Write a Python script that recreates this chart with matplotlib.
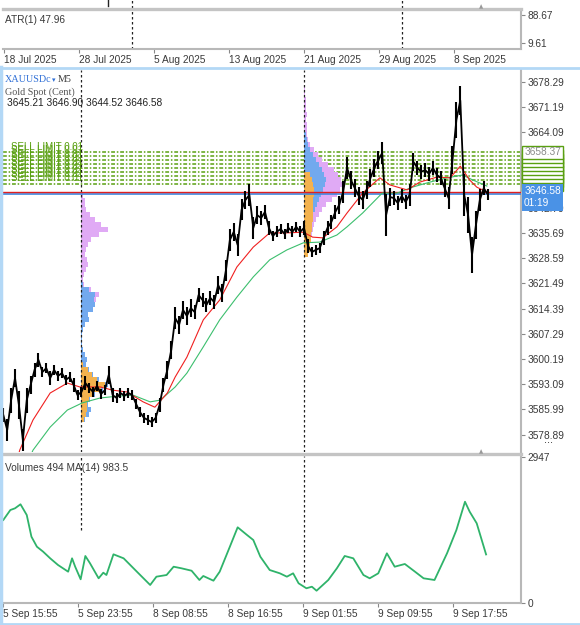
import matplotlib.pyplot as plt
import numpy as np
from matplotlib.lines import Line2D
from matplotlib.transforms import blended_transform_factory

plt.rcParams["font.family"] = ["Liberation Sans", "DejaVu Sans"]

W, H = 580, 625

# ---------------- data ----------------
day_ticks = ["18 Jul 2025", "28 Jul 2025", "5 Aug 2025", "13 Aug 2025",
             "21 Aug 2025", "29 Aug 2025", "8 Sep 2025"]
day_tick_pos = [0, 6, 12, 18, 24, 30, 36]
day_separators = [10.3, 31.9]
atr_ticks = [88.67, 9.61]

bar_ticks = ["5 Sep 15:55", "5 Sep 23:55", "8 Sep 08:55", "8 Sep 16:55",
             "9 Sep 01:55", "9 Sep 09:55", "9 Sep 17:55"]
bar_tick_pos = [0, 96, 192, 288, 384, 480, 576]
session_separators = [100, 385]

price_ticks = [3678.29, 3671.19, 3664.09, 3656.99, 3649.89, 3642.79, 3635.69,
               3628.59, 3621.49, 3614.39, 3607.29, 3600.19, 3593.09, 3585.99,
               3578.89]

# M5 close, one value every 5 bars, and the high-low span of those bars
sample_step = 5
close = [
    3584.4, 3580.2, 3588.6, 3594.8, 3587.2, 3577.4, 3588.6, 3592.9, 3597.1, 3599.9,
    3596.5, 3597.6, 3594.8, 3597.1, 3595.4, 3596.2, 3594.3, 3595.1, 3592.9, 3590.0,
    3590.9, 3593.4, 3592.0, 3590.9, 3592.6, 3590.3, 3591.4, 3595.7, 3590.0, 3589.2,
    3590.6, 3589.8, 3590.6, 3590.0, 3587.5, 3585.2, 3583.6, 3583.0, 3582.4, 3583.6,
    3587.2, 3592.9, 3597.1, 3602.7, 3611.7, 3609.8, 3614.0, 3612.3, 3614.5, 3613.4,
    3618.2, 3616.8, 3615.4, 3617.4, 3616.2, 3621.0, 3618.8, 3625.2, 3633.7, 3636.0,
    3632.3, 3642.2, 3645.0, 3646.4, 3637.1, 3640.7, 3639.9, 3641.6, 3637.1, 3634.8,
    3636.0, 3636.8, 3635.4, 3637.1, 3636.0, 3637.4, 3636.0, 3637.1, 3632.0, 3630.3,
    3630.9, 3631.4, 3634.3, 3637.1, 3638.8, 3641.6, 3643.6, 3647.2, 3654.0, 3650.6,
    3648.3, 3646.1, 3645.0, 3647.8, 3651.2, 3654.0, 3656.2, 3658.2, 3640.7, 3645.8,
    3645.5, 3644.1, 3646.1, 3644.4, 3646.4, 3655.7, 3654.0, 3652.9, 3653.4, 3652.3,
    3654.0, 3652.0, 3651.2, 3648.3, 3645.5, 3656.2, 3667.5, 3673.0, 3646.4, 3640.7,
    3629.5, 3637.9, 3645.0, 3648.3, 3646.6,
]
bar_span = [
    4, 6, 7, 5, 8, 6, 7, 5, 4, 4,
    3, 3, 4, 3, 3, 3, 3, 3, 4, 3,
    3, 4, 3, 3, 3, 3, 3, 5, 4, 3,
    3, 3, 3, 3, 3, 3, 3, 3, 3, 3,
    4, 4, 5, 5, 6, 5, 5, 5, 5, 4,
    4, 4, 4, 4, 4, 5, 5, 6, 6, 5,
    6, 6, 5, 6, 6, 5, 4, 4, 4, 3,
    3, 3, 3, 3, 3, 3, 3, 4, 4, 3,
    3, 3, 4, 4, 4, 4, 5, 6, 6, 5,
    5, 5, 5, 5, 5, 5, 5, 6, 12, 5,
    4, 4, 4, 4, 6, 5, 4, 4, 4, 4,
    4, 4, 4, 5, 6, 8, 10, 8, 12, 10,
    10, 8, 6, 4, 3,
]

red_ma_x = [10, 21, 38, 60, 82, 98, 124, 140, 158, 179, 194, 210, 220, 235, 256,
            277, 299, 320, 341, 363, 384, 396, 409, 427, 440, 460, 482, 495, 517,
            533, 555, 572, 585, 597, 606, 619]
red_ma = [3565.0, 3574.5, 3583.0, 3590.6, 3593.4, 3592.3, 3592.3, 3591.4, 3590.9,
          3588.1, 3586.6, 3590.6, 3595.1, 3600.7, 3611.2, 3616.8, 3626.1, 3631.7,
          3635.7, 3635.7, 3635.9, 3634.5, 3634.3, 3637.4, 3641.3, 3646.9, 3651.2,
          3649.2, 3647.8, 3650.0, 3651.4, 3651.2, 3654.5, 3650.6, 3648.6, 3647.2]

green_ma_x = [25, 38, 60, 82, 101, 124, 146, 166, 188, 201, 220, 235, 256, 277,
              299, 320, 341, 363, 384, 405, 427, 440, 460, 485, 504, 524, 546,
              568, 588, 601, 619]
green_ma = [3568.0, 3574.5, 3581.0, 3585.8, 3587.8, 3589.2, 3589.7, 3590.0, 3588.1,
            3588.6, 3592.3, 3596.2, 3603.6, 3611.2, 3617.6, 3623.3, 3628.1, 3630.9,
            3632.9, 3633.1, 3635.1, 3637.4, 3641.3, 3646.9, 3646.9, 3648.6, 3650.0,
            3651.2, 3652.0, 3650.6, 3648.9]

sell_limits = [3658.37, 3657.25, 3656.12, 3655.00, 3653.87, 3652.75, 3651.62,
               3650.50, 3649.37]
bid, ask = 3646.58, 3647.10

# volume profiles (width units per price bin)
prof_bin = 1.408
p1_top = 3646.37
p1_violet = [2, 4, 4, 5, 9, 14, 20, 27, 18, 10, 7, 5, 4, 6, 7, 5, 3, 2, 3, 10, 18, 15,
             0, 0, 0, 0, 0, 0, 0, 0, 0, 0, 0, 0, 0, 0, 0, 0, 0, 0, 0, 0, 0, 0, 0, 0]
p1_blue = [0, 0, 0, 0, 0, 0, 0, 0, 0, 0, 0, 0, 0, 0, 0, 0, 0, 0, 2, 8, 14, 13, 14, 12,
           7, 8, 4, 2, 1, 1, 1, 2, 4, 6, 5, 8, 12, 18, 27, 22, 14, 9, 7, 10, 8, 4]
p1_orange = [0] * 34 + [2, 7, 11, 16, 24, 20, 13, 8, 6, 6, 5, 3]

p2_top = 3675.95
p2_violet = [1, 1, 2, 2, 2, 3, 2, 3, 3, 3, 4, 6, 10, 14, 18, 24, 30, 34, 37, 38, 36,
             33, 28, 22, 18, 15, 12, 10, 9, 8, 7, 6, 5, 3]
p2_blue = [0] * 9 + [2, 3, 4, 6, 9, 12, 15, 18, 20, 22, 21, 19, 17, 15, 13, 11, 9,
                     7, 5] + [0] * 6
p2_orange = [0] * 17 + [6, 8, 9, 10, 10, 9, 9, 9, 9, 9, 8, 8, 7, 7, 6, 6, 4]

vol_ma_x = [0, 9, 15, 22, 30, 36, 43, 51, 60, 70, 83, 88, 92, 99, 105, 111, 122,
            128, 132, 141, 154, 171, 188, 196, 209, 218, 228, 241, 251, 256, 269,
            277, 290, 300, 312, 320, 329, 341, 354, 363, 371, 378, 388, 395, 401,
            416, 427, 437, 448, 461, 469, 480, 491, 501, 514, 527, 538, 552, 568,
            580, 591, 597, 606, 618]
vol_ma = [1681, 1883, 1918, 1999, 1782, 1343, 1140, 1039, 905, 770, 634, 905, 735,
          480, 952, 804, 500, 614, 567, 986, 905, 634, 365, 533, 567, 735, 703, 654,
          466, 547, 452, 634, 1140, 1533, 1377, 1276, 938, 668, 601, 533, 601, 399,
          298, 330, 249, 466, 703, 952, 905, 567, 500, 601, 1006, 735, 790, 634, 500,
          466, 1006, 1478, 2051, 1849, 1614, 983.5]
vol_ticks = [2947, 0]

# ---------------- figure ----------------
fig = plt.figure(figsize=(W / 100, H / 100), dpi=100)
TXT = "#3a3a3a"
GRID = "#b8b8b8"
SEP = dict(color="#222", lw=0.9, ls=(0, (2, 2)))


def px_axes(x0, y0, x1, y1):
    return fig.add_axes([x0 / W, 1 - y1 / H, (x1 - x0) / W, (y1 - y0) / H])


def ftext(x, y, s, **kw):
    kw.setdefault("va", "center")
    kw.setdefault("fontsize", 7.3)
    kw.setdefault("color", TXT)
    return fig.text(x / W, 1 - y / H, s, **kw)


def fline(xs, ys, **kw):
    fig.add_artist(Line2D([x / W for x in xs], [1 - y / H for y in ys], **kw))


def plain(ax):
    for s in ax.spines.values():
        s.set_visible(False)
    ax.set_xticks([])
    ax.set_yticks([])


def right_axis(ax, sides=("right",)):
    for side in sides:
        ax.spines[side].set_visible(True)
        ax.spines[side].set_color(GRID)
        ax.spines[side].set_linewidth(1.5)
    ax.yaxis.tick_right()


# top strip of the daily window
ax_top = px_axes(3, 0, 521, 8)
plain(ax_top)
ax_top.set_xlim(-0.06, 41.4)
for d in day_separators:
    ax_top.axvline(d, **SEP)
ax_top.axvline(8.35, ymin=0.2, color="#222", lw=1)

# ATR panel
ax_atr = px_axes(3, 10, 521, 49)
plain(ax_atr)
ax_atr.set_xlim(-0.06, 41.4)
ax_atr.set_ylim(-7.3, 102.8)
right_axis(ax_atr, ("right", "bottom"))
ax_atr.set_yticks(atr_ticks, [f"{v:.2f}" for v in atr_ticks])
ax_atr.set_xticks(day_tick_pos, day_ticks)
ax_atr.tick_params(axis="both", length=3, color="#888", labelsize=7.3,
                   labelcolor=TXT, pad=1.5)
for lab in ax_atr.get_xticklabels():
    lab.set_ha("left")
for d in day_separators:
    ax_atr.axvline(d, **SEP)
ax_atr.text(0.004, 0.75, "ATR(1) 47.96", transform=ax_atr.transAxes,
            fontsize=7.3, color=TXT, va="center")

# main price panel
ax = px_axes(3, 70, 521, 452)
plain(ax)
ax.set_xlim(-0.4, 662.7)
ax.set_ylim(3573.98, 3681.58)
right_axis(ax)
ax.set_yticks(price_ticks, [f"{v:.2f}" for v in price_ticks])
ax.tick_params(axis="y", length=3, color="#888", labelsize=7.3,
               labelcolor=TXT, pad=1.5)

px_to_bar = 1.28


def profile(base, top, violet, blue, orange):
    levels = top - prof_bin * np.arange(len(violet))
    for widths, col in ((violet, "#e0aaf5"), (blue, "#72a9ee"), (orange, "#f3b24e")):
        w = np.array(widths) * px_to_bar
        ax.barh(levels, w, left=base, height=prof_bin, color=col, lw=0, zorder=2)


profile(session_separators[0], p1_top, p1_violet, p1_blue, p1_orange)
profile(session_separators[1], p2_top, p2_violet, p2_blue, p2_orange)

for s in session_separators:
    ax.axvline(s, zorder=3, **SEP)

for p in sell_limits:
    ax.axhline(p, color="#5aa012", lw=1.1, ls=(0, (2.5, 1.2, 1, 1.2)), zorder=1)
    ax.text(10, p + 0.25, "SELL LIMIT 0.01", color="#5aa012", fontsize=7,
            va="bottom", ha="left", zorder=1)

ax.axhline(bid, color="#3d86e0", lw=1.2, zorder=4)
ax.axhline(ask, color="#e02020", lw=1.0, zorder=4)

bars = np.arange(len(close)) * sample_step
c = np.array(close)
half = np.array(bar_span) / 2
ax.plot(green_ma_x, green_ma, color="#3cbf6e", lw=0.8, zorder=5)
ax.plot(red_ma_x, red_ma, color="#f02020", lw=0.8, zorder=5)
ax.vlines(bars, c - half, c + half, color="black", lw=1.5, zorder=6)
ax.plot(bars, close, color="black", lw=1.3, zorder=6)

tr = blended_transform_factory(ax.transAxes, ax.transData)
for p in sorted(sell_limits):
    ax.text(1.006, p, f"{p:.2f}", transform=tr, fontsize=7.3, color="#8a8a8a",
            va="center", ha="left", clip_on=False, zorder=7,
            bbox=dict(boxstyle="square,pad=0.18", fc="white", ec="#5aa012", lw=1))
ax.text(1.006, bid - 0.9, f"{bid:.2f}\n01:19", transform=tr, fontsize=7.3,
        color="white", va="center", ha="left", linespacing=1.25, clip_on=False,
        zorder=8, bbox=dict(boxstyle="square,pad=0.25", fc="#4a92e6", ec="none"))

# volume panel
axv = px_axes(3, 456, 521, 603)
plain(axv)
axv.set_xlim(-0.4, 662.7)
axv.set_ylim(0, 2977)
right_axis(axv, ("right", "bottom"))
axv.set_yticks(vol_ticks, [str(v) for v in vol_ticks])
axv.set_xticks(bar_tick_pos, bar_ticks)
axv.tick_params(axis="both", length=3, color="#888", labelsize=7.3,
                labelcolor=TXT, pad=1.5)
for lab in axv.get_xticklabels():
    lab.set_ha("left")
axv.axvline(session_separators[0], ymin=0.5, **SEP)
axv.axvline(session_separators[1], ymin=0.14, **SEP)
axv.plot(vol_ma_x, vol_ma, color="#2fb36a", lw=1.3)
axv.text(0.004, 0.92, "Volumes 494 MA(14) 983.5", transform=axv.transAxes,
         fontsize=7.3, color=TXT, va="center")

# headers on the price panel
ftext(5, 80, "XAUUSDc", family="Liberation Serif", color="#2f6fd6", fontsize=7.3)
ftext(52, 80, "\u25be", family="DejaVu Sans", color="#2f6fd6", fontsize=5)
ftext(58, 80, "M5", family="Liberation Serif", color=TXT, fontsize=7.3)
ftext(5, 92, "Gold Spot (Cent)", family="Liberation Serif", color="#555", fontsize=7.3)
ftext(7, 103, "3645.21 3646.90 3644.52 3646.58", color="#222")
ftext(544, 440, "...", color="#222", fontsize=8)

# window chrome
fline([3, 521], [8.5, 8.5], color="#c4c4c4", lw=2.4)
fline([3, 521], [453.8, 453.8], color="#c4c4c4", lw=2.4)
fline([0, 580], [67.5, 67.5], color="#b3d8f6", lw=2)
fline([1, 1], [67, 625], color="#b3d8f6", lw=2.5)
fline([0, 580], [623.5, 623.5], color="#b3d8f6", lw=2)
ftext(481, 7, "\u25b2", family="DejaVu Sans", color="#999", fontsize=4, ha="center")
ftext(481, 452, "\u25b2", family="DejaVu Sans", color="#999", fontsize=4, ha="center")

fig.savefig("out.png", dpi=100, facecolor="white")
